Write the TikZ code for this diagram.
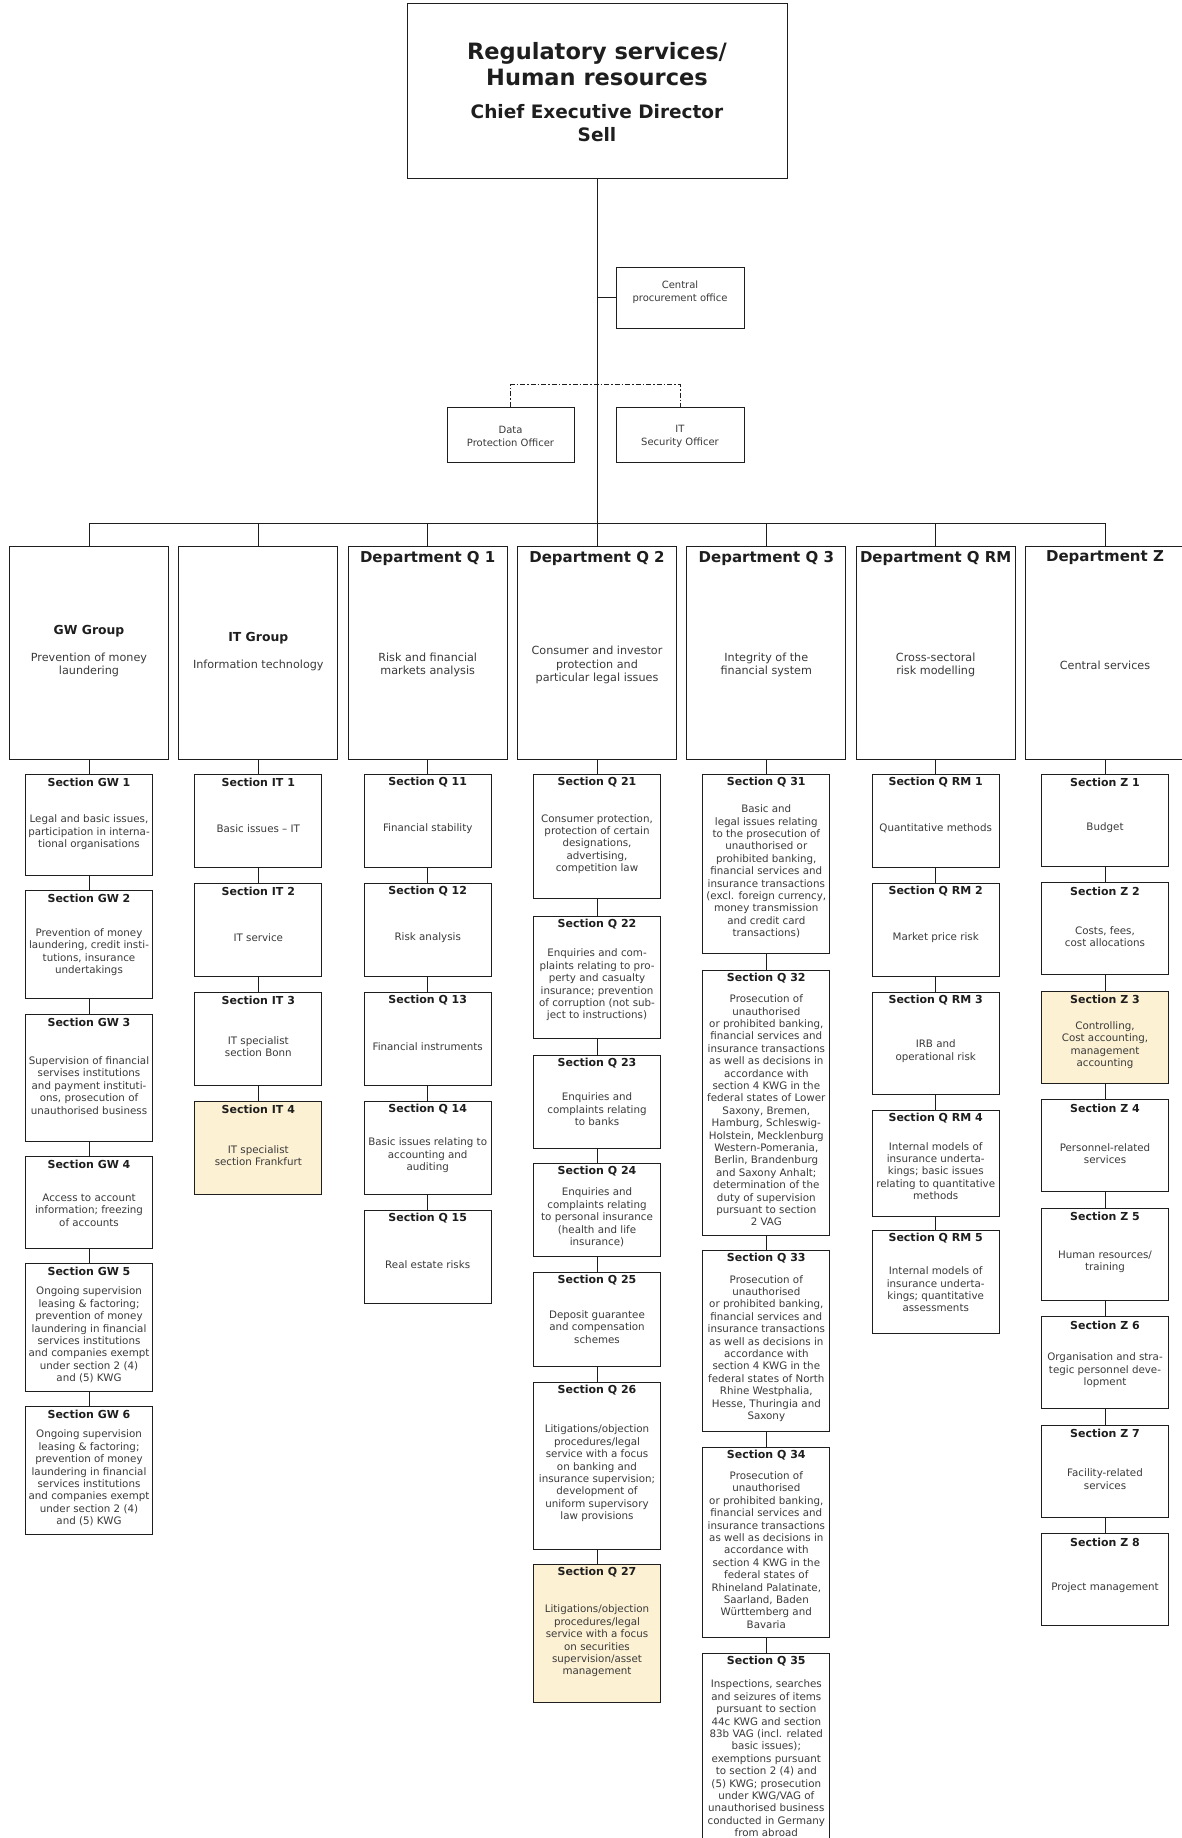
\documentclass[tikz,border=0pt]{standalone}
\usepackage{fontspec}
\setmainfont{DejaVu Sans}
\definecolor{ln}{HTML}{1E1E1E}
\definecolor{txt}{HTML}{3A3A3A}
\definecolor{hl}{HTML}{FDF1D3}
\tikzset{
  box/.style={draw=ln, line width=1pt, rectangle, inner sep=0pt},
  conn/.style={draw=ln, line width=0.95pt},
  sectitle/.style={font=\fontsize{11}{13}\selectfont\bfseries, text=ln, inner sep=0pt},
  secbody/.style={font=\fontsize{10.3}{12.4}\selectfont, text=txt, align=center, inner sep=0pt},
  depttitle/.style={font=\fontsize{15}{18}\selectfont\bfseries, text=ln, inner sep=0pt},
  deptbody/.style={font=\fontsize{11.2}{13.6}\selectfont, text=txt, align=center, inner sep=0pt},
  grouptitle/.style={font=\fontsize{12.4}{15}\selectfont\bfseries, text=ln, inner sep=0pt},
  smalltxt/.style={font=\fontsize{10}{12.6}\selectfont, text=txt, align=center, inner sep=0pt},
  dashdotline/.style={draw=ln, line width=0.85pt, dash pattern=on 5pt off 2pt on 1.5pt off 2pt}
}
% #1 extra style, #2 name, #3 cx, #4 top, #5 bottom, #6 title, #7 body
\newcommand{\secnode}[7][]{%
  \node[box,#1,minimum width=127,minimum height={#5-#4}] (#2) at (#3,{(#4+#5)/2}) {};
  \node[sectitle] (#2t) at (#3,#4+8.5) {#6};
  \node[secbody] (#2b) at (#3,{(#4+16+#5)/2}) {#7};
}
% #1 name, #2 cx, #3 title, #4 body
\newcommand{\deptnode}[4]{%
  \node[box,minimum width=159,minimum height=213] (#1) at (#2,652.5) {};
  \node[depttitle] (#1t) at (#2,558) {#3};
  \node[deptbody] (#1b) at (#2,665) {#4};
}
\begin{document}
\begin{tikzpicture}[x=1pt,y=-1pt]
\clip (0,0) rectangle (1182,1838);
\fill[white] (0,0) rectangle (1182,1838);

% top box
\node[box,minimum width=380,minimum height=175] (top) at (597,91.5) {};
\node[font=\fontsize{22.5}{26}\selectfont\bfseries, text=ln, align=center, inner sep=0pt] (ttl) at (597,64) {Regulatory services/\\Human resources};
\node[font=\fontsize{18.5}{23}\selectfont\bfseries, text=ln, align=center, inner sep=0pt] (tsub) at (597,123) {Chief Executive Director\\Sell};

% staff units
\node[box,minimum width=128,minimum height=61] (cpo) at (680,297.5) {};
\node[smalltxt] (cpot) at (680,292) {Central\\procurement office};
\node[box,minimum width=127,minimum height=55] (dpo) at (510.5,434.5) {};
\node[smalltxt] (dpot) at (510.5,436.5) {Data\\Protection Officer};
\node[box,minimum width=128,minimum height=55] (its) at (680,434.5) {};
\node[smalltxt] (itst) at (680,436.5) {IT\\Security Officer};

% departments
\node[box,minimum width=159,minimum height=213] (dgw) at (89,652.5) {};
\node[grouptitle] (dgwt) at (89,631) {GW Group};
\node[deptbody] (dgwb) at (89,665) {Prevention of money\\laundering};
\node[box,minimum width=159,minimum height=213] (dit) at (258.3,652.5) {};
\node[grouptitle] (ditt) at (258.3,638) {IT Group};
\node[deptbody] (ditb) at (258.3,665) {Information technology};
\deptnode{dq1}{427.7}{Department Q 1}{Risk and financial\\markets analysis}
\deptnode{dq2}{597}{Department Q 2}{Consumer and investor\\protection and\\particular legal issues}
\deptnode{dq3}{766.3}{Department Q 3}{Integrity of the\\financial system}
\deptnode{dqrm}{935.7}{Department Q RM}{Cross-sectoral\\risk modelling}
\deptnode{dz}{1105}{Department Z}{Central services}

% GW sections
\secnode{gw1}{89}{774}{875}{Section GW 1}{Legal and basic issues,\\participation in interna-\\tional organisations}
\secnode{gw2}{89}{890}{998}{Section GW 2}{Prevention of money\\laundering, credit insti-\\tutions, insurance\\undertakings}
\secnode{gw3}{89}{1014}{1141}{Section GW 3}{Supervision of financial\\servises institutions\\and payment instituti-\\ons, prosecution of\\unauthorised business}
\secnode{gw4}{89}{1156}{1248}{Section GW 4}{Access to account\\information; freezing\\of accounts}
\secnode{gw5}{89}{1263}{1391}{Section GW 5}{Ongoing supervision\\leasing \& factoring;\\prevention of money\\laundering in financial\\services institutions\\and companies exempt\\under section 2 (4)\\and (5) KWG}
\secnode{gw6}{89}{1406}{1534}{Section GW 6}{Ongoing supervision\\leasing \& factoring;\\prevention of money\\laundering in financial\\services institutions\\and companies exempt\\under section 2 (4)\\and (5) KWG}

% IT sections
\secnode{it1}{258.3}{774}{867}{Section IT 1}{Basic issues – IT}
\secnode{it2}{258.3}{883}{976}{Section IT 2}{IT service}
\secnode{it3}{258.3}{992}{1085}{Section IT 3}{IT specialist\\section Bonn}
\secnode[fill=hl]{it4}{258.3}{1101}{1194}{Section IT 4}{IT specialist\\section Frankfurt}

% Q1 sections
\secnode{q11}{427.7}{774}{867}{Section Q 11}{Financial stability}
\secnode{q12}{427.7}{883}{976}{Section Q 12}{Risk analysis}
\secnode{q13}{427.7}{992}{1085}{Section Q 13}{Financial instruments}
\secnode{q14}{427.7}{1101}{1194}{Section Q 14}{Basic issues relating to\\accounting and\\auditing}
\secnode{q15}{427.7}{1210}{1303}{Section Q 15}{Real estate risks}

% Q2 sections
\secnode{q21}{597}{774}{898}{Section Q 21}{Consumer protection,\\protection of certain\\designations,\\advertising,\\competition law}
\secnode{q22}{597}{916}{1038}{Section Q 22}{Enquiries and com-\\plaints relating to pro-\\perty and casualty\\insurance; prevention\\of corruption (not sub-\\ject to instructions)}
\secnode{q23}{597}{1055}{1148}{Section Q 23}{Enquiries and\\complaints relating\\to banks}
\secnode{q24}{597}{1163}{1256}{Section Q 24}{Enquiries and\\complaints relating\\to personal insurance\\(health and life\\insurance)}
\secnode{q25}{597}{1272}{1366}{Section Q 25}{Deposit guarantee\\and compensation\\schemes}
\secnode{q26}{597}{1382}{1549}{Section Q 26}{Litigations/objection\\procedures/legal\\service with a focus\\on banking and\\insurance supervision;\\development of\\uniform supervisory\\law provisions}
\secnode[fill=hl]{q27}{597}{1564}{1702}{Section Q 27}{Litigations/objection\\procedures/legal\\service with a focus\\on securities\\supervision/asset\\management}

% Q3 sections
\secnode{q31}{766.3}{774}{953}{Section Q 31}{Basic and\\legal issues relating\\to the prosecution of\\unauthorised or\\prohibited banking,\\financial services and\\insurance transactions\\(excl. foreign currency,\\money transmission\\and credit card\\transactions)}
\secnode{q32}{766.3}{970}{1235}{Section Q 32}{Prosecution of\\unauthorised\\or prohibited banking,\\financial services and\\insurance transactions\\as well as decisions in\\accordance with\\section 4 KWG in the\\federal states of Lower\\Saxony, Bremen,\\Hamburg, Schleswig-\\Holstein, Mecklenburg\\Western-Pomerania,\\Berlin, Brandenburg\\and Saxony Anhalt;\\determination of the\\duty of supervision\\pursuant to section\\2 VAG}
\secnode{q33}{766.3}{1250}{1431}{Section Q 33}{Prosecution of\\unauthorised\\or prohibited banking,\\financial services and\\insurance transactions\\as well as decisions in\\accordance with\\section 4 KWG in the\\federal states of North\\Rhine Westphalia,\\Hesse, Thuringia and\\Saxony}
\secnode{q34}{766.3}{1447}{1637}{Section Q 34}{Prosecution of\\unauthorised\\or prohibited banking,\\financial services and\\insurance transactions\\as well as decisions in\\accordance with\\section 4 KWG in the\\federal states of\\Rhineland Palatinate,\\Saarland, Baden\\Württemberg and\\Bavaria}
\secnode{q35}{766.3}{1653}{1848}{Section Q 35}{Inspections, searches\\and seizures of items\\pursuant to section\\44c KWG and section\\83b VAG (incl. related\\basic issues);\\exemptions pursuant\\to section 2 (4) and\\(5) KWG; prosecution\\under KWG/VAG of\\unauthorised business\\conducted in Germany\\from abroad}

% Q RM sections
\secnode{rm1}{935.7}{774}{867}{Section Q RM 1}{Quantitative methods}
\secnode{rm2}{935.7}{883}{976}{Section Q RM 2}{Market price risk}
\secnode{rm3}{935.7}{992}{1094}{Section Q RM 3}{IRB and\\operational risk}
\secnode{rm4}{935.7}{1110}{1216}{Section Q RM 4}{Internal models of\\insurance underta-\\kings; basic issues\\relating to quantitative\\methods}
\secnode{rm5}{935.7}{1230}{1333}{Section Q RM 5}{Internal models of\\insurance underta-\\kings; quantitative\\assessments}

% Z sections
\secnode{z1}{1105}{774}{866}{Section Z 1}{Budget}
\secnode{z2}{1105}{882.5}{974.5}{Section Z 2}{Costs, fees,\\cost allocations}
\secnode[fill=hl]{z3}{1105}{991}{1083}{Section Z 3}{Controlling,\\Cost accounting,\\management\\accounting}
\secnode{z4}{1105}{1099.5}{1191.5}{Section Z 4}{Personnel-related\\services}
\secnode{z5}{1105}{1208}{1300}{Section Z 5}{Human resources/\\training}
\secnode{z6}{1105}{1316.5}{1408.5}{Section Z 6}{Organisation and stra-\\tegic personnel deve-\\lopment}
\secnode{z7}{1105}{1425}{1517}{Section Z 7}{Facility-related\\services}
\secnode{z8}{1105}{1533.5}{1625.5}{Section Z 8}{Project management}

% connectors
\coordinate (busL) at (89,523);
\coordinate (busR) at (1105,523);
\draw[conn] (top.south) -- (top.south |- busL);
\draw[conn] (top.south |- cpo.west) -- (cpo.west);
\draw[dashdotline] (dpo.north) -- ++(0,-22) -| (its.north);
\draw[conn] (busL) -- (busR);
\foreach \d in {dgw,dit,dq1,dq2,dq3,dqrm,dz} \draw[conn] (\d.north |- busL) -- (\d.north);

\draw[conn] (dgw.south) -- (gw1.north) (gw1.south) -- (gw2.north) (gw2.south) -- (gw3.north)
  (gw3.south) -- (gw4.north) (gw4.south) -- (gw5.north) (gw5.south) -- (gw6.north);
\draw[conn] (dit.south) -- (it1.north) (it1.south) -- (it2.north) (it2.south) -- (it3.north) (it3.south) -- (it4.north);
\draw[conn] (dq1.south) -- (q11.north) (q11.south) -- (q12.north) (q12.south) -- (q13.north)
  (q13.south) -- (q14.north) (q14.south) -- (q15.north);
\draw[conn] (dq2.south) -- (q21.north) (q21.south) -- (q22.north) (q22.south) -- (q23.north)
  (q23.south) -- (q24.north) (q24.south) -- (q25.north) (q25.south) -- (q26.north) (q26.south) -- (q27.north);
\draw[conn] (dq3.south) -- (q31.north) (q31.south) -- (q32.north) (q32.south) -- (q33.north)
  (q33.south) -- (q34.north) (q34.south) -- (q35.north);
\draw[conn] (dqrm.south) -- (rm1.north) (rm1.south) -- (rm2.north) (rm2.south) -- (rm3.north)
  (rm3.south) -- (rm4.north) (rm4.south) -- (rm5.north);
\draw[conn] (dz.south) -- (z1.north) (z1.south) -- (z2.north) (z2.south) -- (z3.north)
  (z3.south) -- (z4.north) (z4.south) -- (z5.north) (z5.south) -- (z6.north)
  (z6.south) -- (z7.north) (z7.south) -- (z8.north);
\end{tikzpicture}
\end{document}
